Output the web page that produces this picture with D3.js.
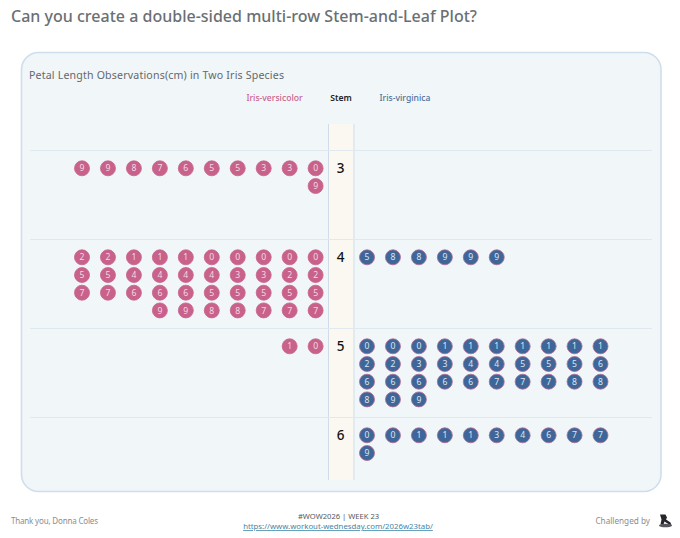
<!DOCTYPE html>
<html>
<head>
<meta charset="utf-8">
<title>Stem-and-Leaf Plot</title>
<script src="https://cdn.jsdelivr.net/npm/d3@7"></script>
<style>
  html, body { margin: 0; padding: 0; background: #fff; }
  svg { display: block; }
  text { font-family: "Noto Sans", "Open Sans", sans-serif; }
</style>
</head>
<body>
<div id="chart"></div>
<script>
const stems = [3, 4, 5, 6];
const versicolorLeaves = [
  [0, 3, 3, 5, 5, 6, 7, 8, 9, 9, 9],
  [0, 0, 0, 0, 0, 1, 1, 1, 2, 2, 2, 2, 3, 3, 4, 4, 4, 4, 5, 5, 5, 5, 5, 5, 5, 6, 6, 6, 7, 7, 7, 7, 7, 8, 8, 9, 9],
  [0, 1],
  [],
];
const virginicaLeaves = [
  [],
  [5, 8, 8, 9, 9, 9],
  [0, 0, 0, 1, 1, 1, 1, 1, 1, 1, 2, 2, 3, 3, 4, 4, 5, 5, 5, 6, 6, 6, 6, 6, 6, 7, 7, 7, 8, 8, 8, 9, 9],
  [0, 0, 1, 1, 1, 3, 4, 6, 7, 7, 9],
];
const perRow = 10;

const width = 680;
const height = 538;

const svg = d3
  .select("#chart")
  .append("svg")
  .attr("width", width)
  .attr("height", height)
  .attr("viewBox", `0 0 ${width} ${height}`)
  .attr("role", "img")
  .attr("aria-label", "Double-sided stem-and-leaf plot of petal length in two iris species.");

svg.append("text")
  .attr("x", 11).attr("y", 21.5)
  .attr("font-size", 16)
  .attr("fill", "#6b6f73")
  .attr("font-weight", 500)
  .attr("textLength", 466)
  .text("Can you create a double-sided multi-row Stem-and-Leaf Plot?");

// panel
svg.append("rect")
  .attr("x", 21.5).attr("y", 52.5).attr("width", 639.5).attr("height", 439)
  .attr("rx", 17)
  .attr("fill", "#f1f6f9").attr("stroke", "#cfdeec").attr("stroke-width", 1.6);

svg.append("text")
  .attr("x", 29).attr("y", 79)
  .attr("font-size", 10.6).attr("fill", "#63686c")
  .attr("textLength", 255)
  .text("Petal Length Observations(cm) in Two Iris Species");

const header = [
  { label: "Iris-versicolor", x: 274.5, fill: "#c9648c", weight: 500 },
  { label: "Stem", x: 341, fill: "#222222", weight: 600 },
  { label: "Iris-virginica", x: 405, fill: "#4f7199", weight: 500 },
];
svg.selectAll(".head")
  .data(header)
  .join("text")
  .attr("class", "head")
  .attr("x", (d) => d.x).attr("y", 101)
  .attr("text-anchor", "middle")
  .attr("font-size", 8.6)
  .attr("font-weight", (d) => d.weight)
  .attr("fill", (d) => d.fill)
  .text((d) => d.label);

// stem band
svg.append("rect")
  .attr("x", 328.5).attr("y", 124).attr("width", 25.5).attr("height", 356)
  .attr("fill", "#fbf8f1");
svg.selectAll(".bandEdge")
  .data([328.5, 354])
  .join("line")
  .attr("class", "bandEdge")
  .attr("x1", (d) => d).attr("x2", (d) => d)
  .attr("y1", 124).attr("y2", 480)
  .attr("stroke", "#d0dde9").attr("stroke-width", 1);

const y = d3.scaleBand().domain(stems).range([150, 506]);
const rowY = d3.scaleLinear().domain([0, 1]).range([18.3, 36]);
const xLeft = d3.scalePoint().domain(d3.range(perRow)).range([315.6, 82]);
const xRight = d3.scalePoint().domain(d3.range(perRow)).range([367, 600.5]);

svg.selectAll(".rowLine")
  .data(stems)
  .join("line")
  .attr("class", "rowLine")
  .attr("x1", 30).attr("x2", 652)
  .attr("y1", (d) => y(d) + 0.5).attr("y2", (d) => y(d) + 0.5)
  .attr("stroke", "#e0e9f0").attr("stroke-width", 1);

svg.selectAll(".stem")
  .data(stems)
  .join("text")
  .attr("class", "stem")
  .attr("x", 340.5)
  .attr("y", (d) => y(d) + 18.3)
  .attr("dy", "0.36em")
  .attr("text-anchor", "middle")
  .attr("font-size", 13.5)
  .attr("font-weight", 500)
  .attr("fill", "#111111")
  .text((d) => d);

function leafRows(leaves) {
  return stems.flatMap((stem, s) =>
    leaves[s].map((leaf, i) => ({
      stem,
      leaf,
      col: i % perRow,
      row: Math.floor(i / perRow),
    })),
  );
}

function drawLeaves(leaves, x, fill, stroke, textFill) {
  const g = svg.append("g");
  const cell = g.selectAll("g")
    .data(leafRows(leaves))
    .join("g")
    .attr("transform", (d) => `translate(${x(d.col)},${y(d.stem) + rowY(d.row)})`);
  cell.append("circle")
    .attr("r", 7.5)
    .attr("fill", fill)
    .attr("stroke", stroke)
    .attr("stroke-width", 0.8);
  cell.append("text")
    .attr("text-anchor", "middle")
    .attr("dy", "0.36em")
    .attr("font-size", 8.6)
    .attr("fill", textFill)
    .text((d) => d.leaf);
}

drawLeaves(versicolorLeaves, xLeft, "#c8628a", "#c8628a", "#f3d9e3");
drawLeaves(virginicaLeaves, xRight, "#3f6699", "#b06a92", "#dbe6f1");

// footer
svg.append("text")
  .attr("x", 11).attr("y", 524)
  .attr("font-size", 8).attr("fill", "#8a8d90")
  .attr("textLength", 87)
  .text("Thank you, Donna Coles");

svg.append("text")
  .attr("x", 338.5).attr("y", 519)
  .attr("text-anchor", "middle")
  .attr("font-size", 7.6).attr("fill", "#55585b")
  .text("#WOW2026  |  WEEK 23");

svg.append("text")
  .attr("x", 338).attr("y", 529)
  .attr("text-anchor", "middle")
  .attr("font-size", 7.8).attr("fill", "#3f86a8")
  .attr("text-decoration", "underline")
  .text("https://www.workout-wednesday.com/2026w23tab/");

svg.append("text")
  .attr("x", 650).attr("y", 524)
  .attr("text-anchor", "end")
  .attr("font-size", 8.2).attr("fill", "#8a8d90")
  .text("Challenged by");

// little rider logo
const logo = svg.append("g").attr("transform", "translate(658.5,514.5)").attr("fill", "#26262a");
logo.append("path").attr("d", "M1.5,0 L7,0 L8.5,3 L7.5,5 L12,8 L13,11 L9,9 L6,7 L5,10 L2,10 L3,5 Z");
logo.append("ellipse").attr("cx", 7).attr("cy", 11).attr("rx", 6.5).attr("ry", 1.8).attr("fill", "#55555a");
</script>
</body>
</html>
